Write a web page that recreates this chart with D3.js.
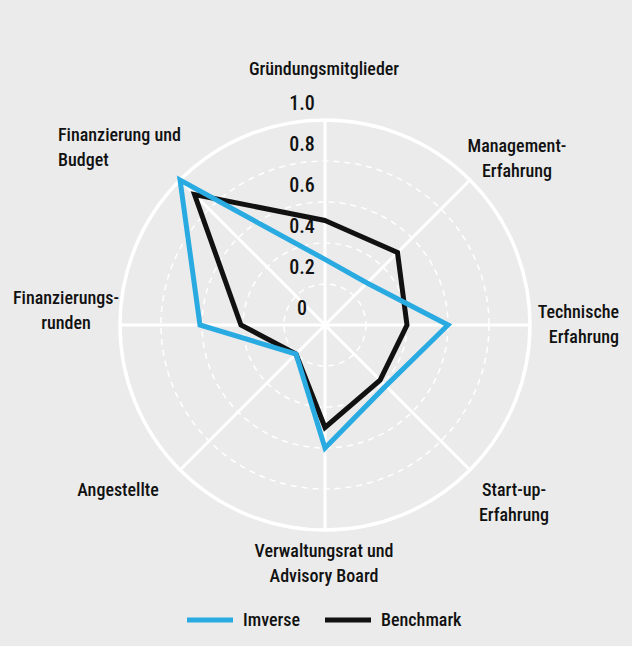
<!DOCTYPE html>
<html><head><meta charset="utf-8">
<script src="https://cdn.jsdelivr.net/npm/d3@7"></script>
<style>
body{margin:0;background:#ebebeb}
text{font-family:"Liberation Sans Narrow","Roboto Condensed","DejaVu Sans Condensed",sans-serif;font-stretch:condensed;fill:#111;font-size:18px;font-weight:500}
text.tick{font-size:20px}
</style></head><body>
<svg id="c" width="632" height="646"></svg>
<script>
const axes = ['Gründungsmitglieder','Management-Erfahrung','Technische Erfahrung','Start-up-Erfahrung','Verwaltungsrat und Advisory Board','Angestellte','Finanzierungsrunden','Finanzierung und Budget']
const imverse = [0.32, 0.29, 0.60, 0.42, 0.60, 0.20, 0.61, 1.0]
const benchmark = [0.51, 0.50, 0.40, 0.38, 0.50, 0.20, 0.41, 0.90]
const ticks = [0, 0.2, 0.4, 0.6, 0.8, 1.0]

const svg = d3.select('#c')
const cx = 325, cy = 325
const r = d3.scaleLinear().domain([0, 1]).range([0, 205])
const ang = (i) => i * Math.PI / 4
const pt = (i, v) => [cx + r(v) * Math.sin(ang(i)), cy - r(v) * Math.cos(ang(i))]

svg.append('rect').attr('width', 632).attr('height', 646).attr('fill', '#ebebeb')

const g = svg.append('g')
ticks.slice(1).forEach((t) => {
  g.append('circle').attr('cx', cx).attr('cy', cy).attr('r', r(t))
    .attr('fill', 'none').attr('stroke', '#fff')
    .attr('stroke-width', t === 1 ? 3.5 : 1.5)
    .attr('stroke-dasharray', t === 1 ? null : '6,5')
})
axes.forEach((a, i) => {
  const [x, y] = pt(i, 1)
  g.append('line').attr('x1', cx).attr('y1', cy).attr('x2', x).attr('y2', y)
    .attr('stroke', '#fff').attr('stroke-width', 3)
})
ticks.forEach((t) => {
  g.append('text').attr('class', 'tick').attr('x', 302).attr('y', cy - r(t) - 10)
    .attr('text-anchor', 'middle').text(t === 0 ? '0' : t.toFixed(1))
})

const line = d3.line().curve(d3.curveLinearClosed)
const series = [[benchmark, '#111'], [imverse, '#29abe2']]
series.forEach(([vals, col]) => {
  g.append('path').attr('d', line(vals.map((v, i) => pt(i, v))))
    .attr('fill', 'none').attr('stroke', col).attr('stroke-width', 5)
    .attr('stroke-linejoin', 'miter')
})

const labels = [
  { lines: ['Gründungsmitglieder'], x: 324, y: 75, a: 'middle' },
  { lines: ['Management-', 'Erfahrung'], x: 517, y: 152, a: 'middle' },
  { lines: ['Technische', 'Erfahrung'], x: 619, y: 318, a: 'end' },
  { lines: ['Start-up-', 'Erfahrung'], x: 514, y: 496, a: 'middle' },
  { lines: ['Verwaltungsrat und', 'Advisory Board'], x: 324, y: 557, a: 'middle' },
  { lines: ['Angestellte'], x: 118, y: 496, a: 'middle' },
  { lines: ['Finanzierungs-', 'runden'], x: 66, y: 304, a: 'middle' },
  { lines: ['Finanzierung und', 'Budget'], x: 58, y: 141, a: 'start' }
]
labels.forEach((l) => {
  const t = svg.append('text').attr('x', l.x).attr('y', l.y).attr('text-anchor', l.a)
  l.lines.forEach((s, k) => t.append('tspan').attr('x', l.x).attr('dy', k ? 25 : 0).text(s))
})

const legend = [['Imverse', '#29abe2', 187], ['Benchmark', '#111', 325]]
legend.forEach(([name, col, x]) => {
  svg.append('line').attr('x1', x).attr('x2', x + 46).attr('y1', 620).attr('y2', 620)
    .attr('stroke', col).attr('stroke-width', 5)
  svg.append('text').attr('x', x + 56).attr('y', 626).text(name)
})
</script></body></html>
